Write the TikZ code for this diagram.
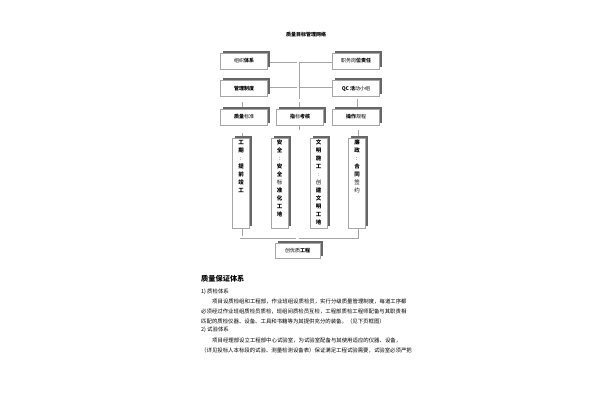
\documentclass[tikz,border=0pt]{standalone}
\usepackage{fontspec}
\setmainfont{Noto Sans CJK SC}
\XeTeXlinebreaklocale "zh"
\XeTeXlinebreakskip=0pt plus 1pt
\usetikzlibrary{positioning,shadows,backgrounds}

\tikzset{
  box/.style={draw=gray!70,line width=.45pt,fill=white,minimum width=47pt,minimum height=16pt,inner sep=0pt,
    font=\fontsize{5}{6}\selectfont,
    drop shadow={shadow xshift=2.5pt,shadow yshift=2.5pt,fill=black!60,opacity=1}},
  vbox/.style={box,minimum width=17pt,minimum height=90pt},
  vtext/.style={align=center,inner sep=0pt,font=\fontsize{5.5}{8}\selectfont},
  link/.style={draw=gray!70,line width=.35pt,double=white,double distance=2.3pt},
  para/.style={anchor=west,inner sep=0pt,font=\fontsize{5.4}{6}\selectfont},
}

\begin{document}
\begin{tikzpicture}[x=1pt,y=-1pt]
\useasboundingbox (0,0) rectangle (600,400);

\node[font=\fontsize{5}{6}\selectfont\bfseries] (title) at (306,35) {质量目标管理网络};

\node[box] (r1l) at (244,61) {组织\textbf{体系}};
\node[box] (r1r) at (356,61) {职务岗\textbf{位责任}};
\node[box] (r2l) at (244,88.5) {\textbf{管理制度}};
\node[box] (r2r) at (356,88.5) {\textbf{QC 活}动小组};
\node[box] (r3l) at (244,117) {\textbf{质量}标准};
\node[box] (r3m) at (300,117) {\textbf{指}标\textbf{考核}};
\node[box] (r3r) at (356,117) {\textbf{操作}规程};

\node[vbox] (v1) at (241,183) {};
\node[vbox] (v2) at (279.5,183) {};
\node[vbox] (v3) at (318.5,183) {};
\node[vbox] (v4) at (357,183) {};
\node[vtext,below=2pt of v1.north] (v1t) {\textbf{工}\\\textbf{期}\\:\\\textbf{提}\\\textbf{前}\\\textbf{竣}\\\textbf{工}};
\node[vtext,below=2pt of v2.north] (v2t) {\textbf{安}\\\textbf{全}\\:\\\textbf{安}\\\textbf{全}\\标\\\textbf{准}\\\textbf{化}\\\textbf{工}\\\textbf{地}};
\node[vtext,below=2pt of v3.north] (v3t) {\textbf{文}\\\textbf{明}\\\textbf{施}\\\textbf{工}\\:\\创\\\textbf{建}\\\textbf{文}\\\textbf{明}\\\textbf{工}\\\textbf{地}};
\node[vtext,below=2pt of v4.north] (v4t) {\textbf{廉}\\\textbf{政}\\:\\\textbf{合}\\\textbf{同}\\签\\约};

\node[box,minimum width=45pt,minimum height=15pt] (goal) at (297.5,250.5) {创优质\textbf{工程}};

\coordinate (top) at (298,61.5);
\coordinate (bar3) at (298,100.5);
\coordinate (bar4) at (298,131.5);
\coordinate (bar5) at (298,237);

\begin{scope}[on background layer]
\draw[link] (r1l.east) -- (r1r.west);
\draw[link] ([yshift=2.5pt]r2l.east) -- ([yshift=2.5pt]r2r.west);
\draw[link] (top) -- (top |- r3m.north);
\draw[link] ([xshift=-3pt]r3l.north) -- ([xshift=-3pt]r3l.north |- bar3) -- (r3r.north |- bar3) -- (r3r.north);
\draw[link] (top |- r3m.south) -- (bar4);
\draw[link] (v1.north) -- (v1.north |- bar4) -- (v4.north |- bar4) -- (v4.north);
\draw[link] (v2.north) -- (v2.north |- bar4);
\draw[link] (v3.north) -- (v3.north |- bar4);
\draw[link] (v1.south) -- (v1.south |- bar5) -- (v4.south |- bar5) -- (v4.south);
\draw[link] (v2.south) -- (v2.south |- bar5);
\draw[link] (v3.south) -- (v3.south |- bar5);
\draw[link] (bar5 -| goal.north) -- (goal.north);
\end{scope}

\node[para,font=\fontsize{7.2}{8}\selectfont\bfseries] (head) at (201,279) {质量保证体系};
\node[para] (s1) at (201,292) {1) 质检体系};
\node[para] (p1) at (212,301) {\makebox[196pt][s]{项目设质检组和工程部，作业班组设质检员，实行分级质量管理制度，每道工序都}};
\node[para] (p2) at (201,311) {\makebox[207pt][s]{必须经过作业班组质检员质检，班组间质检员互检，工程部质检工程师配备与其职责相}};
\node[para] (p3) at (201,321) {匹配的质检仪器、设备、工具和书籍等为其提供充分的装备。（见下页框图）};
\node[para] (s2) at (201,330) {2) 试验体系};
\node[para] (p4) at (212,340) {\makebox[195pt][s]{项目经理部设立工程部中心试验室，为试验室配备与其使用适应的仪器、设备，}};
\node[para] (p5) at (201,350) {\makebox[214pt][s]{（详见投标人本标段的试验、测量检测设备表）保证满足工程试验需要，试验室必须严把}};

\end{tikzpicture}
\end{document}
